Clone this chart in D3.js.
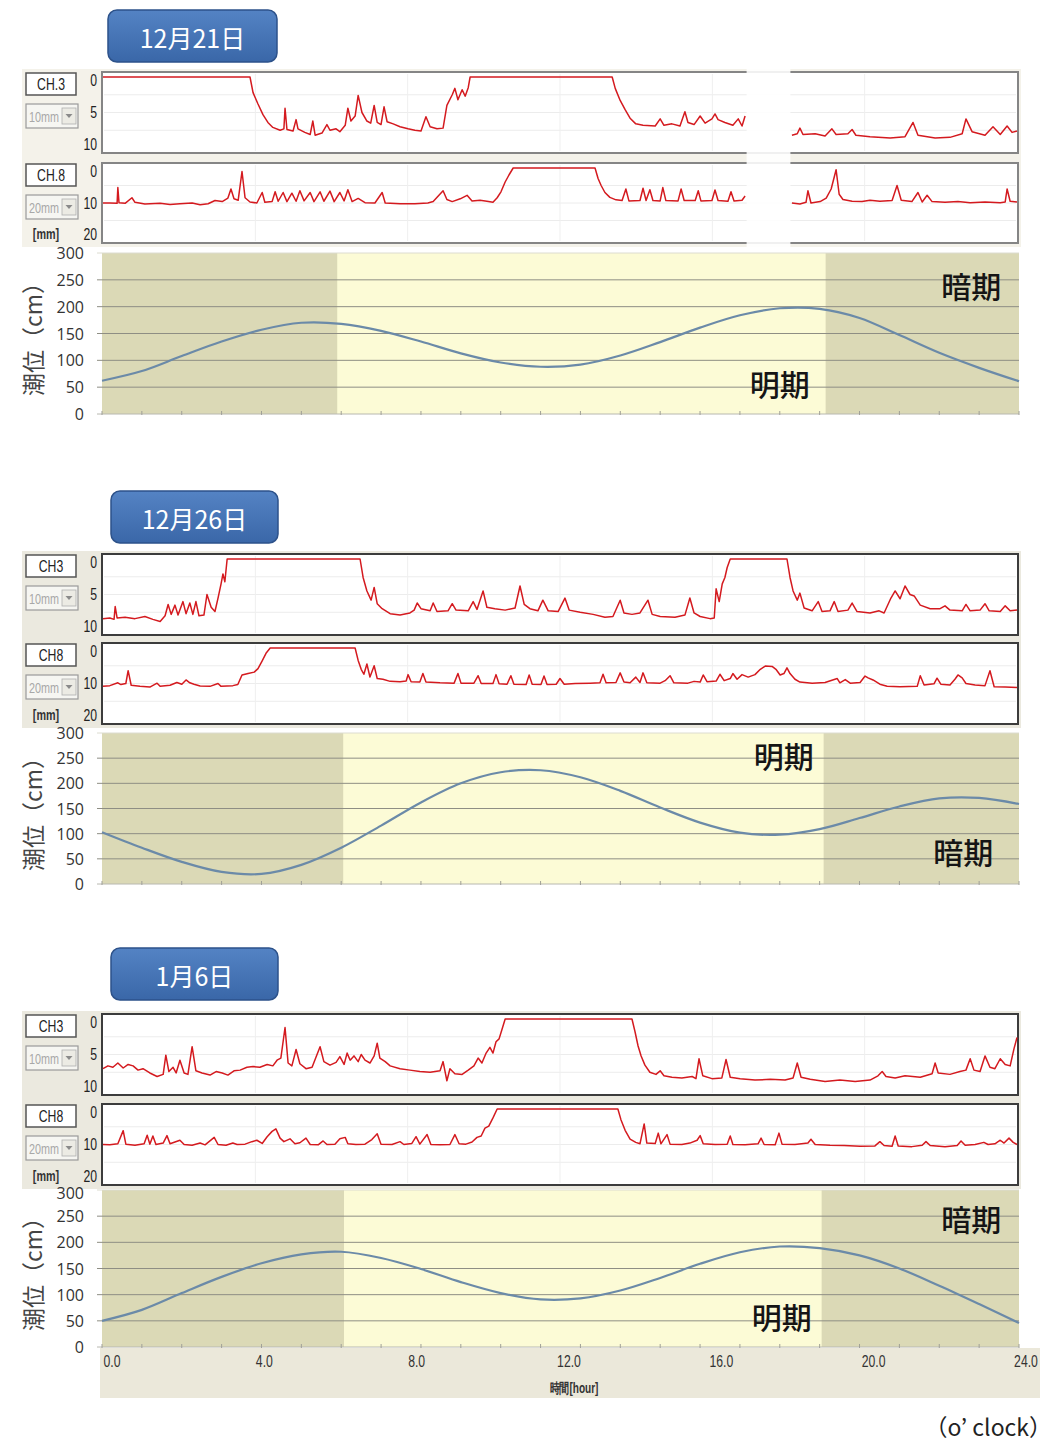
<!DOCTYPE html>
<html>
<head>
<meta charset="utf-8">
<script src="https://cdn.jsdelivr.net/npm/d3@7"></script>
<style>
  body { margin: 0; background: #fff; }
  svg { display: block; }
</style>
</head>
<body>
<svg id="chart" width="1056" height="1444"></svg>
<script>
// ---- data ----
var panelDates = ["12月21日", "12月26日", "1月6日"];
var chLabels = [["CH.3", "CH.8"], ["CH3", "CH8"], ["CH3", "CH8"]];
var rangeLabels = ["10mm", "20mm"];
var ch3Ticks = [0, 5, 10];
var ch8Ticks = [0, 10, 20];
var tideTicks = [0, 50, 100, 150, 200, 250, 300];
var hourTicks = [0, 4, 8, 12, 16, 20, 24];
var hourTickLabels = ["0.0", "4.0", "8.0", "12.0", "16.0", "20.0", "24.0"];

// tide level (cm), hourly readings 0..23
var tide1221 = [62, 80, 108, 135, 157, 170, 168, 155, 135, 113, 96, 88, 92, 109, 134, 161, 184, 197, 196, 179, 147, 114, 86, 61];
var tide1226 = [103, 72, 44, 24, 20, 38, 72, 116, 162, 200, 222, 226, 212, 185, 152, 122, 102, 98, 109, 131, 154, 170, 171, 159];
var tide0106 = [50, 71, 103, 134, 160, 177, 182, 170, 149, 124, 103, 91, 93, 108, 132, 159, 181, 192, 189, 175, 150, 117, 82, 46];

// light period (hour)
var lightStart = [5.9, 6.05, 6.07];
var lightEnd = [18.15, 18.1, 18.05];

// period labels [hour, cm]
var darkLabelAt = [[21.8, 240], [21.6, 66], [21.8, 247]];
var lightLabelAt = [[17.0, 58], [17.1, 256], [17.05, 59]];

// missing data on 12/21 [from, to] hour
var gap1221 = [16.9, 18.05];

// displacement traces [hour, mm]; null = no data
var ch3_1221 = [[0,0],[3.86,0],[3.94,2.2],[4.07,3.8],[4.2,5.3],[4.33,6.4],[4.46,7.1],[4.65,7.5],[4.75,7.3],[4.78,4.4],[4.83,7.4],[4.99,7.6],[5.07,6.0],[5.12,7.3],[5.3,7.8],[5.44,8.1],[5.51,6.2],[5.57,8.2],[5.75,7.9],[5.88,6.7],[5.96,7.5],[6.12,7.3],[6.22,7.7],[6.36,6.8],[6.43,4.4],[6.51,6.2],[6.62,5.5],[6.7,2.6],[6.8,5.0],[6.93,6.2],[7.03,6.5],[7.12,4.0],[7.2,6.4],[7.3,6.7],[7.38,4.2],[7.46,6.3],[7.62,6.6],[7.8,7.0],[8.01,7.3],[8.19,7.5],[8.35,7.6],[8.48,5.6],[8.59,7.0],[8.77,7.3],[8.93,7.2],[9.03,4.0],[9.17,2.5],[9.24,1.6],[9.32,3.2],[9.43,1.8],[9.51,2.7],[9.59,1.5],[9.64,0],[13.37,0],[13.45,1.6],[13.58,3.3],[13.71,4.6],[13.84,5.8],[13.99,6.6],[14.18,6.8],[14.5,6.9],[14.63,5.9],[14.73,6.8],[14.94,6.6],[15.15,6.9],[15.28,4.9],[15.36,6.4],[15.52,6.7],[15.68,5.5],[15.81,6.5],[15.99,5.9],[16.07,5.2],[16.15,6.0],[16.33,6.4],[16.54,6.8],[16.68,5.9],[16.78,6.9],[16.86,5.5],null,[18.09,8.2],[18.23,8.0],[18.3,7.2],[18.38,8.1],[18.7,8.0],[18.96,8.3],[19.14,7.3],[19.25,8.1],[19.56,8.0],[19.67,7.4],[19.77,8.2],[20.14,8.4],[20.67,8.6],[21.06,8.4],[21.27,6.4],[21.4,8.2],[21.85,8.6],[22.24,8.5],[22.56,8.0],[22.66,5.9],[22.82,7.7],[23.16,8.2],[23.37,7.0],[23.56,8.1],[23.74,6.9],[23.87,7.8],[24,7.6]];

var ch8_1221 = [[0,10.0],[0.18,10.0],[0.37,10.1],[0.39,5.6],[0.42,9.9],[0.58,10.1],[0.76,8.5],[0.84,9.8],[1.1,10.3],[1.5,10.1],[1.76,10.4],[2.02,10.2],[2.34,10.0],[2.55,10.5],[2.76,10.2],[2.94,9.3],[3.13,9.6],[3.28,8.6],[3.36,6.0],[3.44,8.8],[3.55,9.2],[3.65,1.0],[3.73,8.5],[3.86,9.7],[4.04,10.0],[4.18,7.0],[4.25,9.8],[4.44,9.6],[4.52,6.8],[4.6,9.5],[4.73,7.0],[4.83,9.6],[4.96,7.2],[5.07,9.5],[5.17,6.5],[5.28,9.4],[5.44,7.0],[5.54,9.6],[5.7,6.8],[5.8,9.5],[5.96,6.6],[6.07,9.6],[6.22,7.0],[6.33,9.4],[6.43,6.2],[6.54,9.6],[6.7,8.7],[6.88,9.9],[7.14,10.0],[7.33,7.0],[7.41,10.0],[7.8,10.2],[8.19,10.2],[8.53,10.0],[8.67,9.6],[8.93,6.5],[9.03,9.0],[9.17,9.6],[9.38,8.8],[9.56,7.8],[9.69,9.4],[9.9,9.2],[10.08,9.5],[10.24,9.8],[10.35,8.5],[10.45,6.8],[10.56,4.0],[10.66,2.0],[10.77,0],[12.92,0],[13.0,3.0],[13.08,5.0],[13.18,7.0],[13.31,8.4],[13.47,9.1],[13.63,9.3],[13.73,6.0],[13.81,9.4],[14.1,9.3],[14.18,5.8],[14.26,9.3],[14.36,6.2],[14.44,9.3],[14.63,9.4],[14.7,5.6],[14.78,9.3],[15.1,9.4],[15.18,6.0],[15.26,9.3],[15.55,9.3],[15.63,6.5],[15.7,9.4],[15.99,9.3],[16.07,6.3],[16.15,9.3],[16.41,9.5],[16.49,6.8],[16.57,9.4],[16.78,9.2],[16.86,8.0],null,[18.09,10.0],[18.3,10.3],[18.46,9.8],[18.51,6.5],[18.59,10.0],[18.83,9.6],[18.99,8.6],[19.12,6.0],[19.25,0.5],[19.33,7.5],[19.43,9.0],[19.67,9.5],[19.93,9.6],[20.14,9.2],[20.4,9.5],[20.72,9.3],[20.85,5.0],[20.96,9.2],[21.24,9.6],[21.4,7.0],[21.51,9.7],[21.64,7.8],[21.77,9.6],[22.11,9.8],[22.45,9.6],[22.77,9.9],[23.16,9.7],[23.56,9.9],[23.69,9.7],[23.74,6.0],[23.82,9.5],[24,9.7]];

var ch3_1226 = [[0,8.4],[0.18,8.3],[0.29,8.5],[0.32,6.7],[0.37,8.3],[0.58,8.2],[0.84,8.4],[1.1,8.1],[1.31,8.5],[1.5,8.8],[1.63,8.0],[1.71,6.4],[1.79,7.8],[1.89,6.5],[1.97,7.9],[2.1,6.0],[2.18,7.7],[2.28,6.2],[2.36,7.8],[2.44,6.0],[2.52,8.0],[2.65,7.9],[2.73,5.0],[2.84,6.8],[2.94,7.4],[3.02,5.5],[3.1,3.5],[3.15,2.1],[3.2,3.2],[3.26,0],[6.75,0],[6.83,2.6],[6.93,4.5],[7.04,5.8],[7.12,4.0],[7.2,6.3],[7.33,7.0],[7.54,7.7],[7.8,7.9],[8.06,7.6],[8.17,7.2],[8.25,6.2],[8.35,7.0],[8.59,7.3],[8.67,6.2],[8.77,7.4],[9.06,7.3],[9.17,6.3],[9.27,7.2],[9.59,7.3],[9.72,6.0],[9.82,7.1],[9.98,4.5],[10.08,6.8],[10.29,7.0],[10.56,7.2],[10.82,6.9],[10.95,3.8],[11.06,6.4],[11.21,7.0],[11.42,7.3],[11.55,5.8],[11.69,7.3],[11.95,7.4],[12.13,5.5],[12.24,7.2],[12.53,7.5],[12.87,7.8],[13.18,8.2],[13.39,8.1],[13.58,5.8],[13.68,7.6],[13.89,7.8],[14.1,7.6],[14.31,5.8],[14.42,7.8],[14.63,8.1],[15.02,8.2],[15.28,7.9],[15.41,5.5],[15.52,7.6],[15.68,8.1],[15.94,8.4],[16.05,8.3],[16.1,4.2],[16.18,6.0],[16.26,3.5],[16.33,2.6],[16.39,1.2],[16.47,0],[17.96,0],[18.04,2.6],[18.12,4.5],[18.23,5.8],[18.3,4.8],[18.41,6.9],[18.62,7.3],[18.78,6.0],[18.88,7.4],[19.09,7.3],[19.2,6.0],[19.3,7.4],[19.56,7.2],[19.67,6.2],[19.8,7.4],[20.14,7.6],[20.38,7.3],[20.51,7.6],[20.69,5.5],[20.8,4.5],[20.93,5.6],[21.06,3.8],[21.19,5.0],[21.3,5.2],[21.46,6.5],[21.72,7.0],[21.98,7.0],[22.11,6.6],[22.24,7.2],[22.56,7.3],[22.66,6.4],[22.77,7.3],[23.03,7.2],[23.16,6.3],[23.27,7.3],[23.56,7.4],[23.69,6.6],[23.82,7.3],[24,7.2]];

var ch8_1226 = [[0,10.8],[0.18,10.6],[0.39,9.8],[0.47,10.3],[0.6,10.0],[0.66,6.4],[0.74,10.5],[0.97,10.8],[1.23,11.0],[1.42,9.9],[1.5,10.8],[1.76,10.5],[1.94,9.7],[2.07,10.2],[2.18,9.0],[2.28,9.8],[2.39,10.2],[2.55,10.7],[2.81,10.8],[3.02,10.0],[3.1,10.8],[3.41,10.6],[3.54,10.3],[3.65,7.6],[3.81,7.2],[3.97,6.8],[4.07,5.8],[4.18,3.6],[4.28,1.5],[4.39,0],[6.62,0],[6.7,3.5],[6.78,6.0],[6.85,7.4],[6.93,4.5],[7.01,8.2],[7.12,5.0],[7.2,8.6],[7.35,8.8],[7.54,9.4],[7.8,9.5],[7.96,9.3],[8.01,7.5],[8.09,9.5],[8.32,9.6],[8.4,7.2],[8.48,9.6],[8.85,9.8],[9.22,9.9],[9.32,7.2],[9.4,9.9],[9.74,9.9],[9.85,7.8],[9.93,10.0],[10.24,10.0],[10.32,7.5],[10.4,10.1],[10.61,10.2],[10.71,7.8],[10.79,10.2],[11.11,10.3],[11.19,7.6],[11.27,10.2],[11.5,10.3],[11.58,7.9],[11.66,10.3],[11.9,10.2],[12.0,8.6],[12.11,10.2],[12.4,10.0],[12.79,9.9],[13.05,9.8],[13.13,7.4],[13.21,9.8],[13.47,9.7],[13.58,7.0],[13.68,9.6],[13.84,9.8],[13.99,8.2],[14.1,9.7],[14.18,7.0],[14.28,9.8],[14.63,9.9],[14.76,9.2],[14.89,7.8],[14.99,9.8],[15.36,9.9],[15.52,9.4],[15.68,9.6],[15.76,7.6],[15.86,9.5],[16.1,9.3],[16.2,7.4],[16.31,9.2],[16.47,8.6],[16.54,7.2],[16.65,8.8],[16.78,7.5],[16.94,8.2],[17.12,7.5],[17.26,6.0],[17.39,5.1],[17.57,5.2],[17.67,6.0],[17.78,7.6],[17.88,7.2],[17.96,5.6],[18.04,7.2],[18.17,8.8],[18.3,9.6],[18.62,9.9],[18.96,9.7],[19.28,8.6],[19.35,9.8],[19.49,8.9],[19.62,9.9],[19.88,9.7],[20.01,7.9],[20.09,8.4],[20.22,9.0],[20.4,10.2],[20.59,10.8],[20.93,10.9],[21.38,10.8],[21.46,7.8],[21.56,10.4],[21.82,10.1],[21.9,8.5],[22.0,10.2],[22.24,10.4],[22.37,8.8],[22.45,7.6],[22.56,8.4],[22.66,10.0],[22.9,10.4],[23.16,10.6],[23.29,6.4],[23.4,10.9],[23.69,11.0],[24,11.1]];

var ch3_0106 = [[0,7.0],[0.13,6.6],[0.26,6.8],[0.39,6.2],[0.53,6.9],[0.66,6.4],[0.79,6.6],[0.92,7.2],[1.05,7.0],[1.23,7.6],[1.42,8.1],[1.58,7.8],[1.65,5.1],[1.73,7.4],[1.84,6.8],[1.92,7.6],[2.02,5.8],[2.13,7.6],[2.23,7.8],[2.34,3.9],[2.44,7.3],[2.6,7.6],[2.81,7.9],[2.97,7.4],[3.13,7.6],[3.28,7.9],[3.44,7.3],[3.6,7.2],[3.78,6.8],[3.94,6.7],[4.12,6.8],[4.31,6.4],[4.46,6.6],[4.57,5.8],[4.67,5.5],[4.78,1.2],[4.86,6.2],[4.96,6.6],[5.07,4.3],[5.17,6.3],[5.33,7.0],[5.49,6.8],[5.62,5.0],[5.7,3.9],[5.8,6.0],[5.96,6.5],[6.12,6.1],[6.22,5.3],[6.33,6.4],[6.41,4.8],[6.49,5.8],[6.59,5.2],[6.7,6.0],[6.78,5.0],[6.88,5.8],[7.01,6.2],[7.12,5.2],[7.2,3.4],[7.27,5.5],[7.41,6.0],[7.54,6.6],[7.8,7.0],[8.06,7.2],[8.32,7.4],[8.59,7.5],[8.85,7.3],[8.93,6.0],[9.03,8.7],[9.11,7.0],[9.24,7.7],[9.43,7.8],[9.59,7.2],[9.74,6.6],[9.85,5.5],[9.95,6.2],[10.06,4.8],[10.16,4.0],[10.24,4.8],[10.32,3.2],[10.4,2.8],[10.48,1.4],[10.56,0],[13.89,0],[13.97,1.8],[14.05,3.8],[14.13,5.2],[14.23,6.5],[14.36,7.5],[14.52,7.8],[14.63,7.3],[14.73,8.0],[14.94,8.2],[15.2,8.3],[15.47,8.1],[15.57,8.4],[15.65,5.6],[15.75,8.0],[15.99,8.4],[16.25,8.3],[16.36,5.7],[16.47,8.2],[16.73,8.4],[17.12,8.6],[17.52,8.5],[17.91,8.6],[18.12,8.3],[18.23,6.2],[18.33,8.2],[18.57,8.5],[18.96,8.8],[19.35,8.6],[19.75,8.8],[20.14,8.6],[20.35,8.0],[20.46,7.4],[20.56,8.1],[20.8,8.3],[21.06,8.0],[21.46,8.2],[21.77,7.7],[21.85,6.2],[21.93,7.6],[22.24,7.8],[22.5,7.4],[22.66,7.2],[22.77,5.6],[22.87,7.2],[23.03,7.4],[23.16,5.2],[23.29,6.8],[23.42,7.0],[23.56,5.6],[23.69,6.4],[23.82,6.6],[23.92,4.2],[24,2.6]];

var ch8_0106 = [[0,10.0],[0.18,10.1],[0.39,9.8],[0.53,6.1],[0.6,9.9],[0.84,10.2],[1.08,9.8],[1.16,7.4],[1.23,9.9],[1.31,7.6],[1.39,10.0],[1.58,9.6],[1.68,7.5],[1.76,9.8],[2.02,8.8],[2.13,10.0],[2.34,10.2],[2.55,9.6],[2.68,10.1],[2.92,8.0],[3.02,10.0],[3.23,10.2],[3.41,9.6],[3.52,10.0],[3.73,9.9],[3.91,9.2],[4.04,8.8],[4.18,9.7],[4.31,7.8],[4.44,6.3],[4.54,5.6],[4.65,8.2],[4.75,9.2],[4.91,8.4],[5.04,9.8],[5.17,9.5],[5.33,8.2],[5.44,10.0],[5.65,10.1],[5.78,9.0],[5.88,10.0],[6.09,9.9],[6.22,8.4],[6.36,8.0],[6.43,9.8],[6.64,10.0],[6.88,9.9],[7.06,8.6],[7.2,7.0],[7.3,9.9],[7.59,10.0],[7.8,9.2],[7.9,10.0],[8.11,9.7],[8.22,7.8],[8.32,9.9],[8.51,7.2],[8.61,10.0],[8.85,10.1],[9.11,10.0],[9.24,7.2],[9.35,9.8],[9.53,9.9],[9.69,9.3],[9.82,8.0],[9.93,7.6],[10.03,5.4],[10.13,4.8],[10.24,2.5],[10.35,0],[13.52,0],[13.6,3.0],[13.71,6.0],[13.84,8.5],[13.99,9.4],[14.1,9.8],[14.21,4.2],[14.28,9.6],[14.5,9.7],[14.58,6.8],[14.65,9.8],[14.81,7.2],[14.89,9.9],[15.2,10.0],[15.41,9.6],[15.6,8.8],[15.68,7.5],[15.76,9.8],[16.07,10.0],[16.39,9.9],[16.47,7.6],[16.54,10.0],[16.86,10.1],[17.2,9.8],[17.28,8.2],[17.36,10.0],[17.65,10.1],[17.75,6.8],[17.83,9.9],[18.17,10.0],[18.51,9.6],[18.59,8.5],[18.7,10.0],[19.09,10.2],[19.46,10.3],[19.88,10.5],[20.27,10.4],[20.4,9.2],[20.51,10.3],[20.72,10.5],[20.8,7.6],[20.88,10.4],[21.24,10.6],[21.51,10.2],[21.61,9.2],[21.72,10.3],[22.11,10.6],[22.43,10.3],[22.53,9.0],[22.64,10.2],[22.9,10.0],[23.13,9.4],[23.24,10.0],[23.42,9.8],[23.56,8.8],[23.66,9.6],[23.79,8.2],[23.9,9.4],[24,10.0]];

var tides = [tide1221, tide1226, tide0106];
var ch3s = [ch3_1221, ch3_1226, ch3_0106];
var ch8s = [ch8_1221, ch8_1226, ch8_0106];

// ---- layout ----
var layout = [
  { boxX: 108, boxW: 169, boxY: 10, ch3: [72, 153], ch8: [163, 243], tide: [253, 414], frame: "#858585" },
  { boxX: 111, boxW: 167, boxY: 491, ch3: [554, 635], ch8: [643, 724], tide: [733, 884], frame: "#3c3c3c" },
  { boxX: 111, boxW: 167, boxY: 948, ch3: [1014, 1095], ch8: [1104, 1185], tide: [1190, 1347], frame: "#3c3c3c" }
];
var plotL = 102, plotR = 1019;
var cjk = "'Noto Sans CJK JP', 'Noto Sans', sans-serif";
var sans = "'Liberation Sans', Arial, sans-serif";
var numFont = "'Open Sans', 'Noto Sans', sans-serif";

var svg = d3.select("#chart");
var defs = svg.append("defs");
var grad = defs.append("linearGradient").attr("id", "titleGrad")
    .attr("x1", 0).attr("y1", 0).attr("x2", 0).attr("y2", 1);
grad.append("stop").attr("offset", "0%").attr("stop-color", "#5483c4");
grad.append("stop").attr("offset", "100%").attr("stop-color", "#3a67a8");

var xTrace = d3.scaleLinear().domain([0, 24]).range([plotL + 1, plotR - 2]);
var xTide = d3.scaleLinear().domain([0, 23]).range([plotL, plotR]);

// condensed text: horizontally squeezed
function narrowText(parent, x, y, txt, size, anchor, fill, weight) {
    parent.append("text")
        .attr("transform", "translate(" + x + "," + y + ") scale(0.72,1)")
        .attr("text-anchor", anchor).attr("dominant-baseline", "central")
        .attr("font-family", sans).attr("font-size", size)
        .attr("font-weight", weight || "normal")
        .attr("fill", fill)
        .text(txt);
}

layout.forEach(function(L, p) {
    var g = svg.append("g");

    // date badge
    g.append("rect")
        .attr("x", L.boxX).attr("y", L.boxY)
        .attr("width", L.boxW).attr("height", 52)
        .attr("rx", 9)
        .attr("fill", "url(#titleGrad)")
        .attr("stroke", "#2d528a").attr("stroke-width", 1.5);
    g.append("text")
        .attr("x", L.boxX + L.boxW / 2).attr("y", L.boxY + 27)
        .attr("text-anchor", "middle").attr("dominant-baseline", "central")
        .attr("font-family", cjk).attr("font-size", 25)
        .attr("fill", "#fff")
        .text(panelDates[p]);

    // control panel background
    g.append("rect")
        .attr("x", 22).attr("y", L.ch3[0] - 3)
        .attr("width", plotR - 20).attr("height", L.ch8[1] - L.ch3[0] + 7)
        .attr("fill", p == 0 ? "#f4f2ea" : "#ebe9df");

    // CH3 / CH8 traces
    var chans = [
        { r: L.ch3, max: 10, ticks: ch3Ticks, data: ch3s[p], label: chLabels[p][0], range: rangeLabels[0], grid: 2.5 },
        { r: L.ch8, max: 20, ticks: ch8Ticks, data: ch8s[p], label: chLabels[p][1], range: rangeLabels[1], grid: 5 }
    ];
    chans.forEach(function(c, ci) {
        var top = c.r[0], bot = c.r[1];
        var y = d3.scaleLinear().domain([0, c.max]).range([top + 5, bot - 5]);

        g.append("rect")
            .attr("x", plotL).attr("y", top)
            .attr("width", plotR - plotL - 1).attr("height", bot - top)
            .attr("fill", "#fff")
            .attr("stroke", L.frame).attr("stroke-width", 2);

        // faint grid
        g.selectAll(null).data(d3.range(c.grid, c.max, c.grid)).enter()
            .append("line")
            .attr("x1", plotL + 2).attr("x2", plotR - 3)
            .attr("y1", function(d) { return y(d); }).attr("y2", function(d) { return y(d); })
            .attr("stroke", "#ececec").attr("stroke-width", 1);
        g.selectAll(null).data([4, 8, 12, 16, 20]).enter()
            .append("line")
            .attr("x1", function(d) { return xTrace(d); }).attr("x2", function(d) { return xTrace(d); })
            .attr("y1", top + 2).attr("y2", bot - 2)
            .attr("stroke", "#efefef").attr("stroke-width", 1);

        var line = d3.line()
            .defined(function(d) { return d != null; })
            .x(function(d) { return xTrace(d[0]); })
            .y(function(d) { return y(d[1]); });
        g.append("path")
            .datum(c.data)
            .attr("d", line)
            .attr("fill", "none")
            .attr("stroke", "#d41a1f").attr("stroke-width", 1.5)
            .attr("stroke-linejoin", "round");

        // y tick labels
        c.ticks.forEach(function(d) {
            var yy = y(d) + (d == 0 ? 3 : (d == c.max ? -4 : 0));
            narrowText(g, 97, yy, d, 17, "end", "#222");
        });

        // channel label box
        g.append("rect")
            .attr("x", 26).attr("y", top + 1)
            .attr("width", 50).attr("height", 22)
            .attr("fill", "#fff").attr("stroke", "#555").attr("stroke-width", 1.5);
        narrowText(g, 51, top + 12.5, c.label, 17, "middle", "#222");

        // range dropdown
        var dy = top + 32;
        g.append("rect")
            .attr("x", 26).attr("y", dy)
            .attr("width", 52).attr("height", 24)
            .attr("fill", "#f6f6f2").attr("stroke", "#9a9a9a").attr("stroke-width", 1.2);
        g.append("rect")
            .attr("x", 62).attr("y", dy + 4)
            .attr("width", 14).attr("height", 16)
            .attr("fill", "#ecebe4").attr("stroke", "#b0b0b0").attr("stroke-width", 0.8);
        g.append("path")
            .attr("d", "M65.5," + (dy + 10) + "L72.5," + (dy + 10) + "L69," + (dy + 14) + "Z")
            .attr("fill", "#8a8a8a");
        narrowText(g, 29, dy + 12.5, c.range, 15, "start", "#a8a8a8");
    });

    narrowText(g, 46, L.ch8[1] - 9, "[mm]", 15, "middle", "#333", "bold");

    // missing data patch (12/21)
    if (p == 0) {
        g.append("rect")
            .attr("x", xTrace(gap1221[0])).attr("y", L.ch3[0] - 4)
            .attr("width", xTrace(gap1221[1]) - xTrace(gap1221[0]))
            .attr("height", L.ch8[1] - L.ch3[0] + 8)
            .attr("fill", "#fff").attr("opacity", 0.88);
    }

    // tide chart
    var tTop = L.tide[0], tBot = L.tide[1];
    var yT = d3.scaleLinear().domain([0, 300]).range([tBot, tTop]);

    g.append("rect")
        .attr("x", plotL).attr("y", tTop)
        .attr("width", plotR - plotL).attr("height", tBot - tTop)
        .attr("fill", "#dbd9b6");
    g.append("rect")
        .attr("x", xTide(lightStart[p])).attr("y", tTop)
        .attr("width", xTide(lightEnd[p]) - xTide(lightStart[p])).attr("height", tBot - tTop)
        .attr("fill", "#fcfbd6");

    g.selectAll(null).data(tideTicks).enter()
        .append("line")
        .attr("x1", plotL - 5).attr("x2", plotR)
        .attr("y1", function(d) { return yT(d); }).attr("y2", function(d) { return yT(d); })
        .attr("stroke", function(d) { return d == 300 ? "#dcdcd0" : (d == 0 ? "#b8b8b0" : "#8e8e84"); })
        .attr("stroke-width", 1);

    g.selectAll(null).data(d3.range(0, 24)).enter()
        .append("line")
        .attr("x1", function(d) { return xTide(d); }).attr("x2", function(d) { return xTide(d); })
        .attr("y1", tBot - 3).attr("y2", tBot + 1)
        .attr("stroke", "#a0a098").attr("stroke-width", 1);

    g.selectAll(null).data(tideTicks).enter()
        .append("text")
        .attr("x", 84).attr("y", function(d) { return yT(d) + (p == 2 && d == 300 ? 3 : 0); })
        .attr("text-anchor", "end").attr("dominant-baseline", "central")
        .attr("font-family", numFont).attr("font-size", 16)
        .attr("fill", "#333")
        .text(function(d) { return d; });

    var tideLine = d3.line()
        .x(function(d, i) { return xTide(i); })
        .y(function(d) { return yT(d); })
        .curve(d3.curveCatmullRom.alpha(0.5));
    g.append("path")
        .datum(tides[p])
        .attr("d", tideLine)
        .attr("fill", "none")
        .attr("stroke", "#6b8aa8").attr("stroke-width", 2.2);

    g.append("text")
        .attr("transform", "translate(32," + ((tTop + tBot) / 2) + ") rotate(-90)")
        .attr("text-anchor", "middle").attr("dominant-baseline", "central")
        .attr("font-family", cjk).attr("font-size", 23)
        .attr("fill", "#444")
        .text("潮位（cm）");

    [[darkLabelAt[p], "暗期"], [lightLabelAt[p], "明期"]].forEach(function(t) {
        g.append("text")
            .attr("x", xTide(t[0][0])).attr("y", yT(t[0][1]))
            .attr("text-anchor", "middle").attr("dominant-baseline", "central")
            .attr("font-family", cjk).attr("font-size", 30).attr("font-weight", 500)
            .attr("fill", "#151515")
            .text(t[1]);
    });

    // hour axis under last panel
    if (p == layout.length - 1) {
        g.append("rect")
            .attr("x", 100).attr("y", tBot + 1)
            .attr("width", 940).attr("height", 50)
            .attr("fill", "#ebe8da");
        hourTicks.forEach(function(d, i) {
            narrowText(g, xTrace(d) + 9, tBot + 14, hourTickLabels[i], 17, "middle", "#333");
        });
        narrowText(g, 574, tBot + 41, "時間[hour]", 14, "middle", "#333", "bold");
    }
});

svg.append("text")
    .attr("x", 1052).attr("y", 1426)
    .attr("text-anchor", "end").attr("dominant-baseline", "central")
    .attr("font-family", cjk).attr("font-size", 23)
    .attr("fill", "#222")
    .text("（o’ clock）");
</script>
</body>
</html>
